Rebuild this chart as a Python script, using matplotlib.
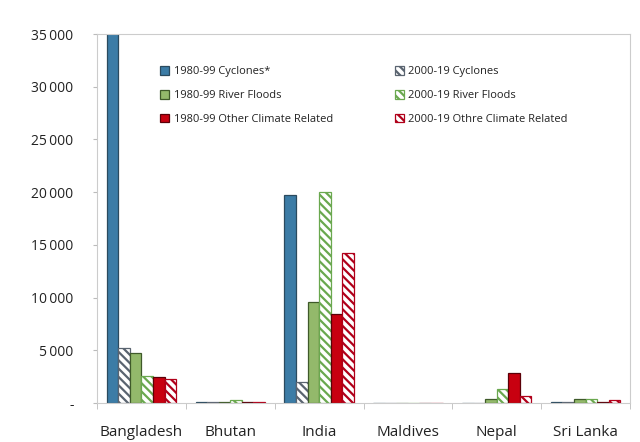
import matplotlib
matplotlib.use("Agg")
import matplotlib.pyplot as plt
import numpy as np

plt.rcParams['font.family'] = ['Open Sans', 'DejaVu Sans']
plt.rcParams['hatch.linewidth'] = 1.6

categories = ["Bangladesh", "Bhutan", "India", "Maldives", "Nepal", "Sri Lanka"]
series_labels = ["1980-99 Cyclones*", "2000-19 Cyclones",
                 "1980-99 River Floods", "2000-19 River Floods",
                 "1980-99 Other Climate Related", "2000-19 Othre Climate Related"]
cyclones_80 = [40000, 100, 19700, 0, 0, 50]
cyclones_00 = [5200, 100, 2000, 0, 0, 100]
floods_80 = [4700, 50, 9600, 0, 400, 400]
floods_00 = [2600, 250, 20000, 0, 1300, 400]
other_80 = [2500, 100, 8400, 0, 2800, 100]
other_00 = [2300, 50, 14200, 0, 700, 300]
yticks = [0, 5000, 10000, 15000, 20000, 25000, 30000, 35000]
ytick_labels = ["-", "5\u2009000", "10\u2009000", "15\u2009000", "20\u2009000",
                "25\u2009000", "30\u2009000", "35\u2009000"]

series = [cyclones_80, cyclones_00, floods_80, floods_00, other_80, other_00]
styles = [
    dict(color="#3C7CA6", edgecolor="#2b4a5e"),
    dict(color="white", edgecolor="#5a6470", hatch="\\\\\\\\"),
    dict(color="#93B96B", edgecolor="#3f5a2a"),
    dict(color="white", edgecolor="#6aa84f", hatch="\\\\\\\\"),
    dict(color="#C80010", edgecolor="#5a0008"),
    dict(color="white", edgecolor="#b0001a", hatch="\\\\\\\\"),
]

fig = plt.figure(figsize=(6.4, 4.42), dpi=100)
ax = fig.add_axes([97/640, 1-403/442, (630-97)/640, (403-34)/442])

x = np.arange(len(categories))
w = 0.13
handles = []
for i, (vals, st) in enumerate(zip(series, styles)):
    b = ax.bar(x + (i - 2.5) * w, vals, width=w, linewidth=0.9,
               label=series_labels[i], **st)
    handles.append(b)

ax.set_xlim(-0.5, len(categories) - 0.5)
ax.set_ylim(0, 35000)
ax.set_yticks(yticks)
ax.set_yticklabels(ytick_labels, fontsize=10, color="#222222")
ax.set_xticks(x)
ax.set_xticklabels(categories, fontsize=11, color="#222222")
ax.tick_params(axis='x', length=0, pad=16)
ax.tick_params(axis='y', length=3, color="#bbbbbb", pad=14)
ax.set_xticks(np.arange(len(categories) + 1) - 0.5, minor=True)
ax.tick_params(axis='x', which='minor', length=4, color="#bbbbbb", direction='out')
for s in ax.spines.values():
    s.set_color("#cccccc")
    s.set_linewidth(0.8)

order = [0, 2, 4, 1, 3, 5]
leg = ax.legend([handles[k] for k in order], [series_labels[k] for k in order],
                ncol=2, frameon=False, fontsize=8, loc='upper left',
                bbox_to_anchor=(0.1, 0.94), handlelength=0.8, handleheight=0.8,
                handletextpad=0.4, columnspacing=5.6, labelspacing=1.15)
for t in leg.get_texts():
    t.set_color("#222222")

fig.savefig("out.png", dpi=100)
